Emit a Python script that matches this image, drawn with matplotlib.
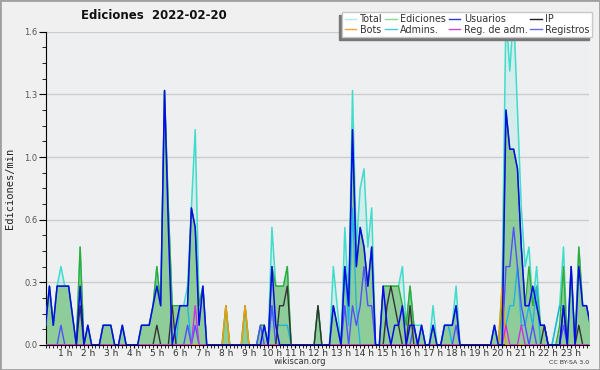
import numpy as np
import matplotlib
matplotlib.use('Agg')
import matplotlib.pyplot as plt
from matplotlib.lines import Line2D
from matplotlib.patches import Rectangle

# values per 10 minutes, one row = one hour (6 values)
total = [
    [0.1, 0.3, 0.1, 0.3, 0.4, 0.3],
    [0.3, 0.15, 0, 0.5, 0, 0.1],
    [0, 0, 0, 0.1, 0.1, 0.1],
    [0, 0, 0.1, 0, 0, 0],
    [0, 0.1, 0.1, 0.1, 0.2, 0.4],
    [0.2, 1.3, 0.7, 0.2, 0.2, 0.2],
    [0.2, 0.3, 0.7, 1.1, 0.2, 0.3],
    [0, 0, 0, 0, 0, 0.2],
    [0, 0, 0, 0, 0.2, 0],
    [0, 0, 0.1, 0.1, 0, 0.6],
    [0.3, 0.3, 0.3, 0.4, 0, 0],
    [0, 0, 0, 0, 0, 0.2],
    [0, 0, 0, 0.4, 0.2, 0],
    [0.6, 0.2, 1.3, 0.5, 0.8, 0.9],
    [0.5, 0.7, 0, 0, 0.3, 0.3],
    [0.3, 0.3, 0.3, 0.4, 0.1, 0.3],
    [0.1, 0.1, 0.1, 0, 0, 0.2],
    [0, 0, 0.1, 0.1, 0.1, 0.3],
    [0, 0, 0, 0, 0, 0],
    [0, 0, 0, 0.1, 0, 0.3],
    [1.7, 1.4, 1.7, 1.2, 0.7, 0.4],
    [0.5, 0.2, 0.4, 0.1, 0.1, 0],
    [0, 0.1, 0.2, 0.5, 0, 0.4],
    [0, 0.5, 0.2, 0.2, 0.1, 0.1],
]
ediciones = [
    [0.1, 0.3, 0.1, 0.3, 0.3, 0.3],
    [0.3, 0.15, 0, 0.5, 0, 0.1],
    [0, 0, 0, 0.1, 0.1, 0.1],
    [0, 0, 0.1, 0, 0, 0],
    [0, 0.1, 0.1, 0.1, 0.2, 0.4],
    [0.2, 1.3, 0.7, 0.2, 0.2, 0.2],
    [0.2, 0.2, 0.7, 0.6, 0.2, 0.3],
    [0, 0, 0, 0, 0, 0.2],
    [0, 0, 0, 0, 0.2, 0],
    [0, 0, 0.1, 0.1, 0, 0.4],
    [0.3, 0.3, 0.3, 0.4, 0, 0],
    [0, 0, 0, 0, 0, 0.2],
    [0, 0, 0, 0.2, 0.1, 0],
    [0.4, 0.2, 1.1, 0.4, 0.6, 0.5],
    [0.3, 0.5, 0, 0, 0.3, 0.3],
    [0.3, 0.3, 0.3, 0.2, 0.1, 0.3],
    [0.1, 0, 0.1, 0, 0, 0.1],
    [0, 0, 0.1, 0.1, 0.1, 0.2],
    [0, 0, 0, 0, 0, 0],
    [0, 0, 0, 0.1, 0, 0.2],
    [1.2, 1.0, 1.0, 0.9, 0.5, 0.2],
    [0.4, 0.2, 0.3, 0.1, 0.1, 0],
    [0, 0, 0.1, 0.4, 0, 0.4],
    [0, 0.5, 0.2, 0.2, 0.1, 0.1],
]
usuarios = [
    [0.1, 0.3, 0.1, 0.3, 0.3, 0.3],
    [0.3, 0.15, 0, 0.3, 0, 0.1],
    [0, 0, 0, 0.1, 0.1, 0.1],
    [0, 0, 0.1, 0, 0, 0],
    [0, 0.1, 0.1, 0.1, 0.2, 0.3],
    [0.2, 1.3, 0.6, 0, 0.1, 0.2],
    [0.2, 0.2, 0.7, 0.6, 0.1, 0.3],
    [0, 0, 0, 0, 0, 0],
    [0, 0, 0, 0, 0, 0],
    [0, 0, 0, 0.1, 0, 0.4],
    [0.1, 0, 0, 0, 0, 0],
    [0, 0, 0, 0, 0, 0],
    [0, 0, 0, 0.2, 0.1, 0],
    [0.4, 0.2, 1.1, 0.4, 0.6, 0.5],
    [0.3, 0.5, 0, 0, 0.3, 0.1],
    [0, 0.1, 0.1, 0.2, 0, 0.1],
    [0.1, 0, 0.1, 0, 0, 0.1],
    [0, 0, 0.1, 0.1, 0.1, 0.2],
    [0, 0, 0, 0, 0, 0],
    [0, 0, 0, 0.1, 0, 0],
    [1.2, 1.0, 1.0, 0.9, 0.5, 0.2],
    [0.2, 0.3, 0.2, 0.1, 0.1, 0],
    [0, 0, 0, 0.2, 0, 0.4],
    [0, 0.4, 0.2, 0.2, 0.1, 0.1],
]
ip = [
    [0, 0, 0, 0, 0, 0],
    [0, 0, 0, 0.2, 0, 0],
    [0, 0, 0, 0, 0, 0],
    [0, 0, 0, 0, 0, 0],
    [0, 0, 0, 0, 0, 0.1],
    [0, 0, 0, 0.2, 0, 0],
    [0, 0, 0, 0, 0, 0],
    [0, 0, 0, 0, 0, 0],
    [0, 0, 0, 0, 0, 0],
    [0, 0, 0, 0, 0, 0],
    [0, 0.2, 0.2, 0.3, 0, 0],
    [0, 0, 0, 0, 0, 0.2],
    [0, 0, 0, 0, 0, 0],
    [0, 0, 0, 0, 0, 0],
    [0, 0, 0, 0, 0, 0.2],
    [0.3, 0.2, 0.1, 0, 0, 0.2],
    [0, 0, 0, 0, 0, 0],
    [0, 0, 0, 0, 0, 0],
    [0, 0, 0, 0, 0, 0],
    [0, 0, 0, 0, 0, 0],
    [0, 0, 0, 0, 0, 0],
    [0, 0, 0, 0, 0.1, 0],
    [0, 0, 0, 0.2, 0, 0],
    [0, 0.1, 0, 0, 0, 0],
]
bots = [[0] * 6 for _ in range(24)]
bots[7] = [0, 0, 0, 0, 0, 0.2]
bots[8] = [0, 0, 0, 0, 0.2, 0]
bots[19] = [0, 0, 0, 0, 0, 0.3]

admins = [[0] * 6 for _ in range(24)]
admins[5] = [0, 0, 0, 0, 0, 0.2]
admins[6] = [0.2, 0.2, 0, 0, 0, 0]
admins[9] = [0, 0, 0, 0, 0, 0.2]
admins[10] = [0.1, 0.1, 0.1, 0.1, 0, 0]
admins[13] = [0.4, 0.1, 0.7, 0.2, 0, 0]
admins[17] = [0, 0, 0.1, 0.1, 0, 0]
admins[20] = [0.1, 0.2, 0.2, 0.4, 0.1, 0.1]
admins[21] = [0.2, 0.1, 0.3, 0, 0, 0]
admins[22] = [0, 0.1, 0.2, 0.2, 0, 0]

reg_adm = [[0] * 6 for _ in range(24)]
reg_adm[6] = [0, 0, 0, 0.2, 0, 0]
reg_adm[20] = [0.1, 0, 0, 0, 0.1, 0]

registros = [[0] * 6 for _ in range(24)]
registros[0] = [0, 0, 0, 0, 0.1, 0]
registros[6] = [0, 0.1, 0, 0.1, 0, 0]
registros[9] = [0, 0, 0.1, 0, 0, 0.2]
registros[13] = [0.2, 0, 0.2, 0.1, 0.2, 0.4]
registros[14] = [0.2, 0.2, 0, 0, 0, 0]
registros[16] = [0.1, 0, 0, 0, 0, 0]
registros[17] = [0, 0, 0, 0, 0, 0.1]
registros[20] = [0.4, 0.4, 0.6, 0.4, 0.2, 0.1]
registros[21] = [0, 0.1, 0, 0, 0, 0]
registros[22] = [0, 0, 0, 0.1, 0, 0]

hour_labels = ['%d h' % h for h in range(1, 24)]
y_ticks = [0, 0.32, 0.64, 0.96, 1.28, 1.6]
y_labels = ['0.0', '0.3', '0.6', '1.0', '1.3', '1.6']


def flat(rows):
    return np.array(rows, dtype=float).ravel()


x = np.arange(144)

fig = plt.figure(figsize=(6, 3.7), dpi=100)
fig.patch.set_facecolor('#f0f0f0')
ax = fig.add_axes([0.076, 0.068, 0.906, 0.846])
ax.set_facecolor('#eeeff1')

ax.fill_between(x, flat(total), color='#40e0d0', alpha=0.15, lw=0, zorder=1)
ax.fill_between(x, flat(ediciones), color='#55b555', alpha=0.55, lw=0, zorder=2)
ax.plot(x, flat(total), color='#40dccc', lw=1.1, zorder=3)
ax.plot(x, flat(ediciones), color='#33aa33', lw=1.0, zorder=3)
ax.plot(x, flat(admins), color='#22b4e0', lw=1.0, zorder=4)
ax.plot(x, flat(registros), color='#5050ff', lw=1.0, zorder=4)
ax.plot(x, flat(ip), color='#333333', lw=1.0, zorder=5)
ax.plot(x, flat(bots), color='#ff9900', lw=1.0, zorder=5)
ax.plot(x, flat(reg_adm), color='#cc33dd', lw=1.0, zorder=5)
ax.plot(x, flat(usuarios), color='#0a0ae8', lw=1.1, zorder=6)

ax.set_xlim(0, 141.7)
ax.set_ylim(0, 1.6)
ax.set_yticks(y_ticks)
ax.set_yticklabels(y_labels)
ax.set_yticks(np.arange(0, 1.61, 0.08), minor=True)
ax.set_xticks([6 * h - 1 for h in range(1, 24)])
ax.set_xticklabels(hour_labels)
ax.set_xticks(np.arange(0, 142, 1), minor=True)
ax.tick_params(axis='y', which='major', length=5, labelsize=6, labelcolor='#555555', pad=1)
ax.tick_params(axis='y', which='minor', length=3)
ax.tick_params(axis='x', which='both', length=2.5, labelsize=6.5, labelcolor='#333333', pad=0.5)
ax.grid(axis='y', which='major', color='#cccccc', lw=1)
ax.set_axisbelow(True)
for side in ['top', 'right']:
    ax.spines[side].set_visible(False)

fig.text(0.257, 0.957, 'Ediciones  2022-02-20', ha='center', va='center',
         fontsize=8.5, weight='bold', color='#111111')
fig.text(0.016, 0.49, 'Ediciones/min', rotation=90, ha='center', va='center',
         fontsize=7.5, family='DejaVu Sans Mono', color='#222222')
fig.text(0.5, 0.022, 'wikiscan.org', ha='center', va='center', fontsize=6, color='#333333')
fig.text(0.948, 0.02, 'CC BY-SA 3.0', ha='center', va='center', fontsize=4.5, color='#333333')

names = ['Total', 'Bots', 'Ediciones', 'Admins.', 'Usuarios', 'Reg. de adm.', 'IP', 'Registros']
colors = ['#b0e8e8', '#ff9f33', '#90d890', '#44c8e0', '#3333dd', '#cc44dd', '#222222', '#6666ee']
handles = [Line2D([], [], color=c, lw=1) for c in colors]
leg = fig.legend(handles, names, ncol=4, loc='upper right', bbox_to_anchor=(0.987, 0.968),
                 fontsize=6.9, frameon=True, fancybox=False, edgecolor='#c8c8c8',
                 facecolor='white', framealpha=1, handlelength=1.2, handletextpad=0.35,
                 columnspacing=0.3, borderpad=0.25, labelspacing=0.05, borderaxespad=0,
                 shadow={'ox': -2.2, 'oy': -2.2, 'facecolor': '#777777', 'edgecolor': '#777777', 'alpha': 1})
for t in leg.get_texts():
    t.set_color('#333333')

fig.patches.append(Rectangle((0, 0), 1, 1, transform=fig.transFigure, fill=False,
                             edgecolor='#a0a0a0', lw=2))

fig.savefig('out.png', dpi=100, facecolor=fig.get_facecolor())
